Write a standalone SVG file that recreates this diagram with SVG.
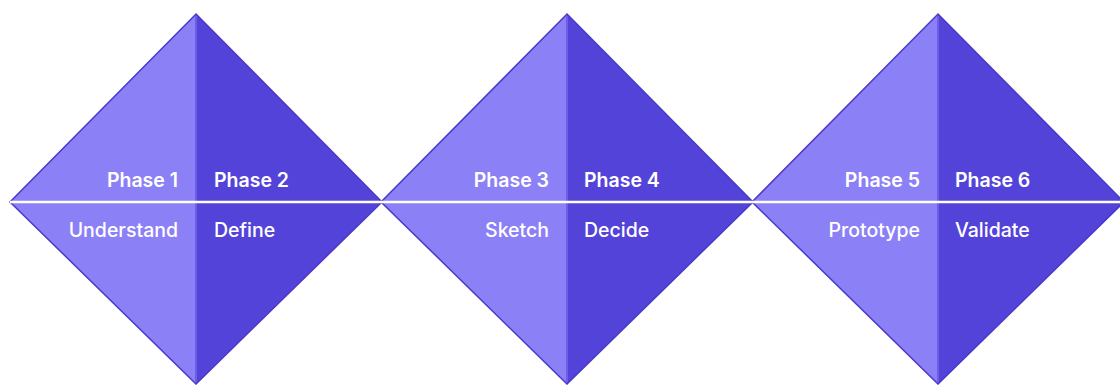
<svg xmlns="http://www.w3.org/2000/svg" width="1120" height="385" viewBox="0 0 1120 385">
<style>
.l{fill:#8c80f6}
.d{fill:#5443d9}
.o{fill:none;stroke:#4a39c9;stroke-width:1.5;stroke-linejoin:miter}
.v{stroke:#6c5ee8;stroke-width:2}
.t{font-family:Inter,"Liberation Sans",sans-serif;font-size:19.5px;fill:#ffffff}
.p{font-weight:600}
.n{font-weight:500}
.e{text-anchor:end}
</style>
<rect width="1120" height="385" fill="#ffffff"/>
<g id="diamond1">
<polygon class="l" points="196,14 196,384 10,202"/>
<polygon class="d" points="196,14 382,202 196,384"/>
<polygon class="o" points="196,14 382,202 196,384 10,202"/>
<line class="v" x1="196" y1="16" x2="196" y2="382"/>
<text class="t p e" x="178" y="187">Phase 1</text>
<text class="t n e" x="178" y="237">Understand</text>
<text class="t p" x="214" y="187">Phase 2</text>
<text class="t n" x="214" y="237">Define</text>
</g>
<g id="diamond2">
<polygon class="l" points="567,14 567,384 381,202"/>
<polygon class="d" points="567,14 753,202 567,384"/>
<polygon class="o" points="567,14 753,202 567,384 381,202"/>
<line class="v" x1="567" y1="16" x2="567" y2="382"/>
<text class="t p e" x="549" y="187">Phase 3</text>
<text class="t n e" x="549" y="237">Sketch</text>
<text class="t p" x="584" y="187">Phase 4</text>
<text class="t n" x="584" y="237">Decide</text>
</g>
<g id="diamond3">
<polygon class="l" points="938,14 938,384 752,202"/>
<polygon class="d" points="938,14 1124,202 938,384"/>
<polygon class="o" points="938,14 1124,202 938,384 752,202"/>
<line class="v" x1="938" y1="16" x2="938" y2="382"/>
<text class="t p e" x="920" y="187">Phase 5</text>
<text class="t n e" x="920" y="237">Prototype</text>
<text class="t p" x="955" y="187">Phase 6</text>
<text class="t n" x="955" y="237">Validate</text>
</g>
<g id="connectors">
<line x1="10" y1="202" x2="1120" y2="202" stroke="#ffffff" stroke-width="2.5"/>
</g>
</svg>
